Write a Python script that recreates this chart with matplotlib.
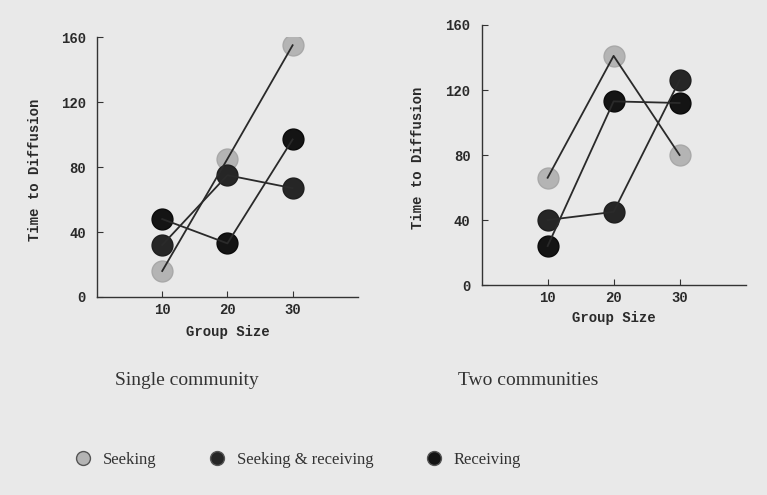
import matplotlib.pyplot as plt
from matplotlib.lines import Line2D

group_size = [10, 20, 30]

# single community
single_seeking = [16, 85, 155]
single_seek_recv = [32, 75, 67]
single_receiving = [48, 33, 97]

# two communities
two_seeking = [66, 141, 80]
two_seek_recv = [40, 45, 126]
two_receiving = [24, 113, 112]

yticks = [0, 40, 80, 120, 160]
xticks = [10, 20, 30]

bg = '#e9e9e9'
styles = {
    'Seeking': dict(color='#b4b4b4', mec='#a8a8a8'),
    'Seeking & receiving': dict(color='#262626', mec='#1e1e1e'),
    'Receiving': dict(color='#141414', mec='#0a0a0a'),
}

mono = dict(family='Liberation Mono', weight='bold', fontsize=10)
ink = '#2a2a2a'

fig = plt.figure(figsize=(7.67, 4.95), dpi=100, facecolor=bg)
ax1 = fig.add_axes([0.1265, 0.400, 0.340, 0.525])
ax2 = fig.add_axes([0.628, 0.4242, 0.344, 0.5253])


def draw(ax, series, ylab_x, xlab_y):
    ax.set_facecolor(bg)
    for name, vals in series:
        st = styles[name]
        ax.plot(group_size, vals, 'o', ms=15, color=st['color'], mec=st['mec'], zorder=2)
    for name, vals in series:
        ax.plot(group_size, vals, '-', color=ink, lw=1.3, zorder=3)
    ax.set_xlim(0, 40)
    ax.set_ylim(0, 160)
    ax.set_xticks(xticks)
    ax.set_yticks(yticks)
    ax.spines['top'].set_visible(False)
    ax.spines['right'].set_visible(False)
    for s in ('left', 'bottom'):
        ax.spines[s].set_color('#333333')
        ax.spines[s].set_linewidth(1.0)
    ax.tick_params(axis='y', direction='in', length=4, color='#333333', pad=8)
    ax.tick_params(axis='x', direction='in', length=4, color='#333333', pad=4)
    for lab in ax.get_xticklabels() + ax.get_yticklabels():
        lab.set(**mono)
        lab.set_color(ink)
    ax.set_xlabel('Group Size', color=ink, **mono)
    ax.set_ylabel('Time to Diffusion', color=ink, **mono)
    ax.xaxis.set_label_coords(0.5, xlab_y)
    ax.yaxis.set_label_coords(ylab_x, 0.49)
    ax.xaxis.label.set_va('center')
    ax.yaxis.label.set_va('center')


draw(ax1, [('Seeking', single_seeking), ('Seeking & receiving', single_seek_recv),
           ('Receiving', single_receiving)], -0.2375, -0.135)
draw(ax2, [('Seeking', two_seeking), ('Seeking & receiving', two_seek_recv),
           ('Receiving', two_receiving)], -0.242, -0.127)

serif = dict(family='Liberation Serif', fontsize=14, color='#333333', va='center')
fig.text(0.150, 0.232, 'Single community', **serif)
fig.text(0.597, 0.232, 'Two communities', **serif)

handles = [Line2D([], [], ls='none', marker='o', ms=10, color=st['color'], mec='#555555')
           for st in styles.values()]
fig.legend(handles, list(styles.keys()), loc='center left', bbox_to_anchor=(0.0978, 0.0707),
           ncol=3, frameon=False, prop={'family': 'Liberation Serif', 'size': 12},
           handlelength=1.0, handletextpad=0.7, columnspacing=3.1,
           borderpad=0, borderaxespad=0, labelcolor='#333333')

fig.savefig('out.png', dpi=100, facecolor=bg)
